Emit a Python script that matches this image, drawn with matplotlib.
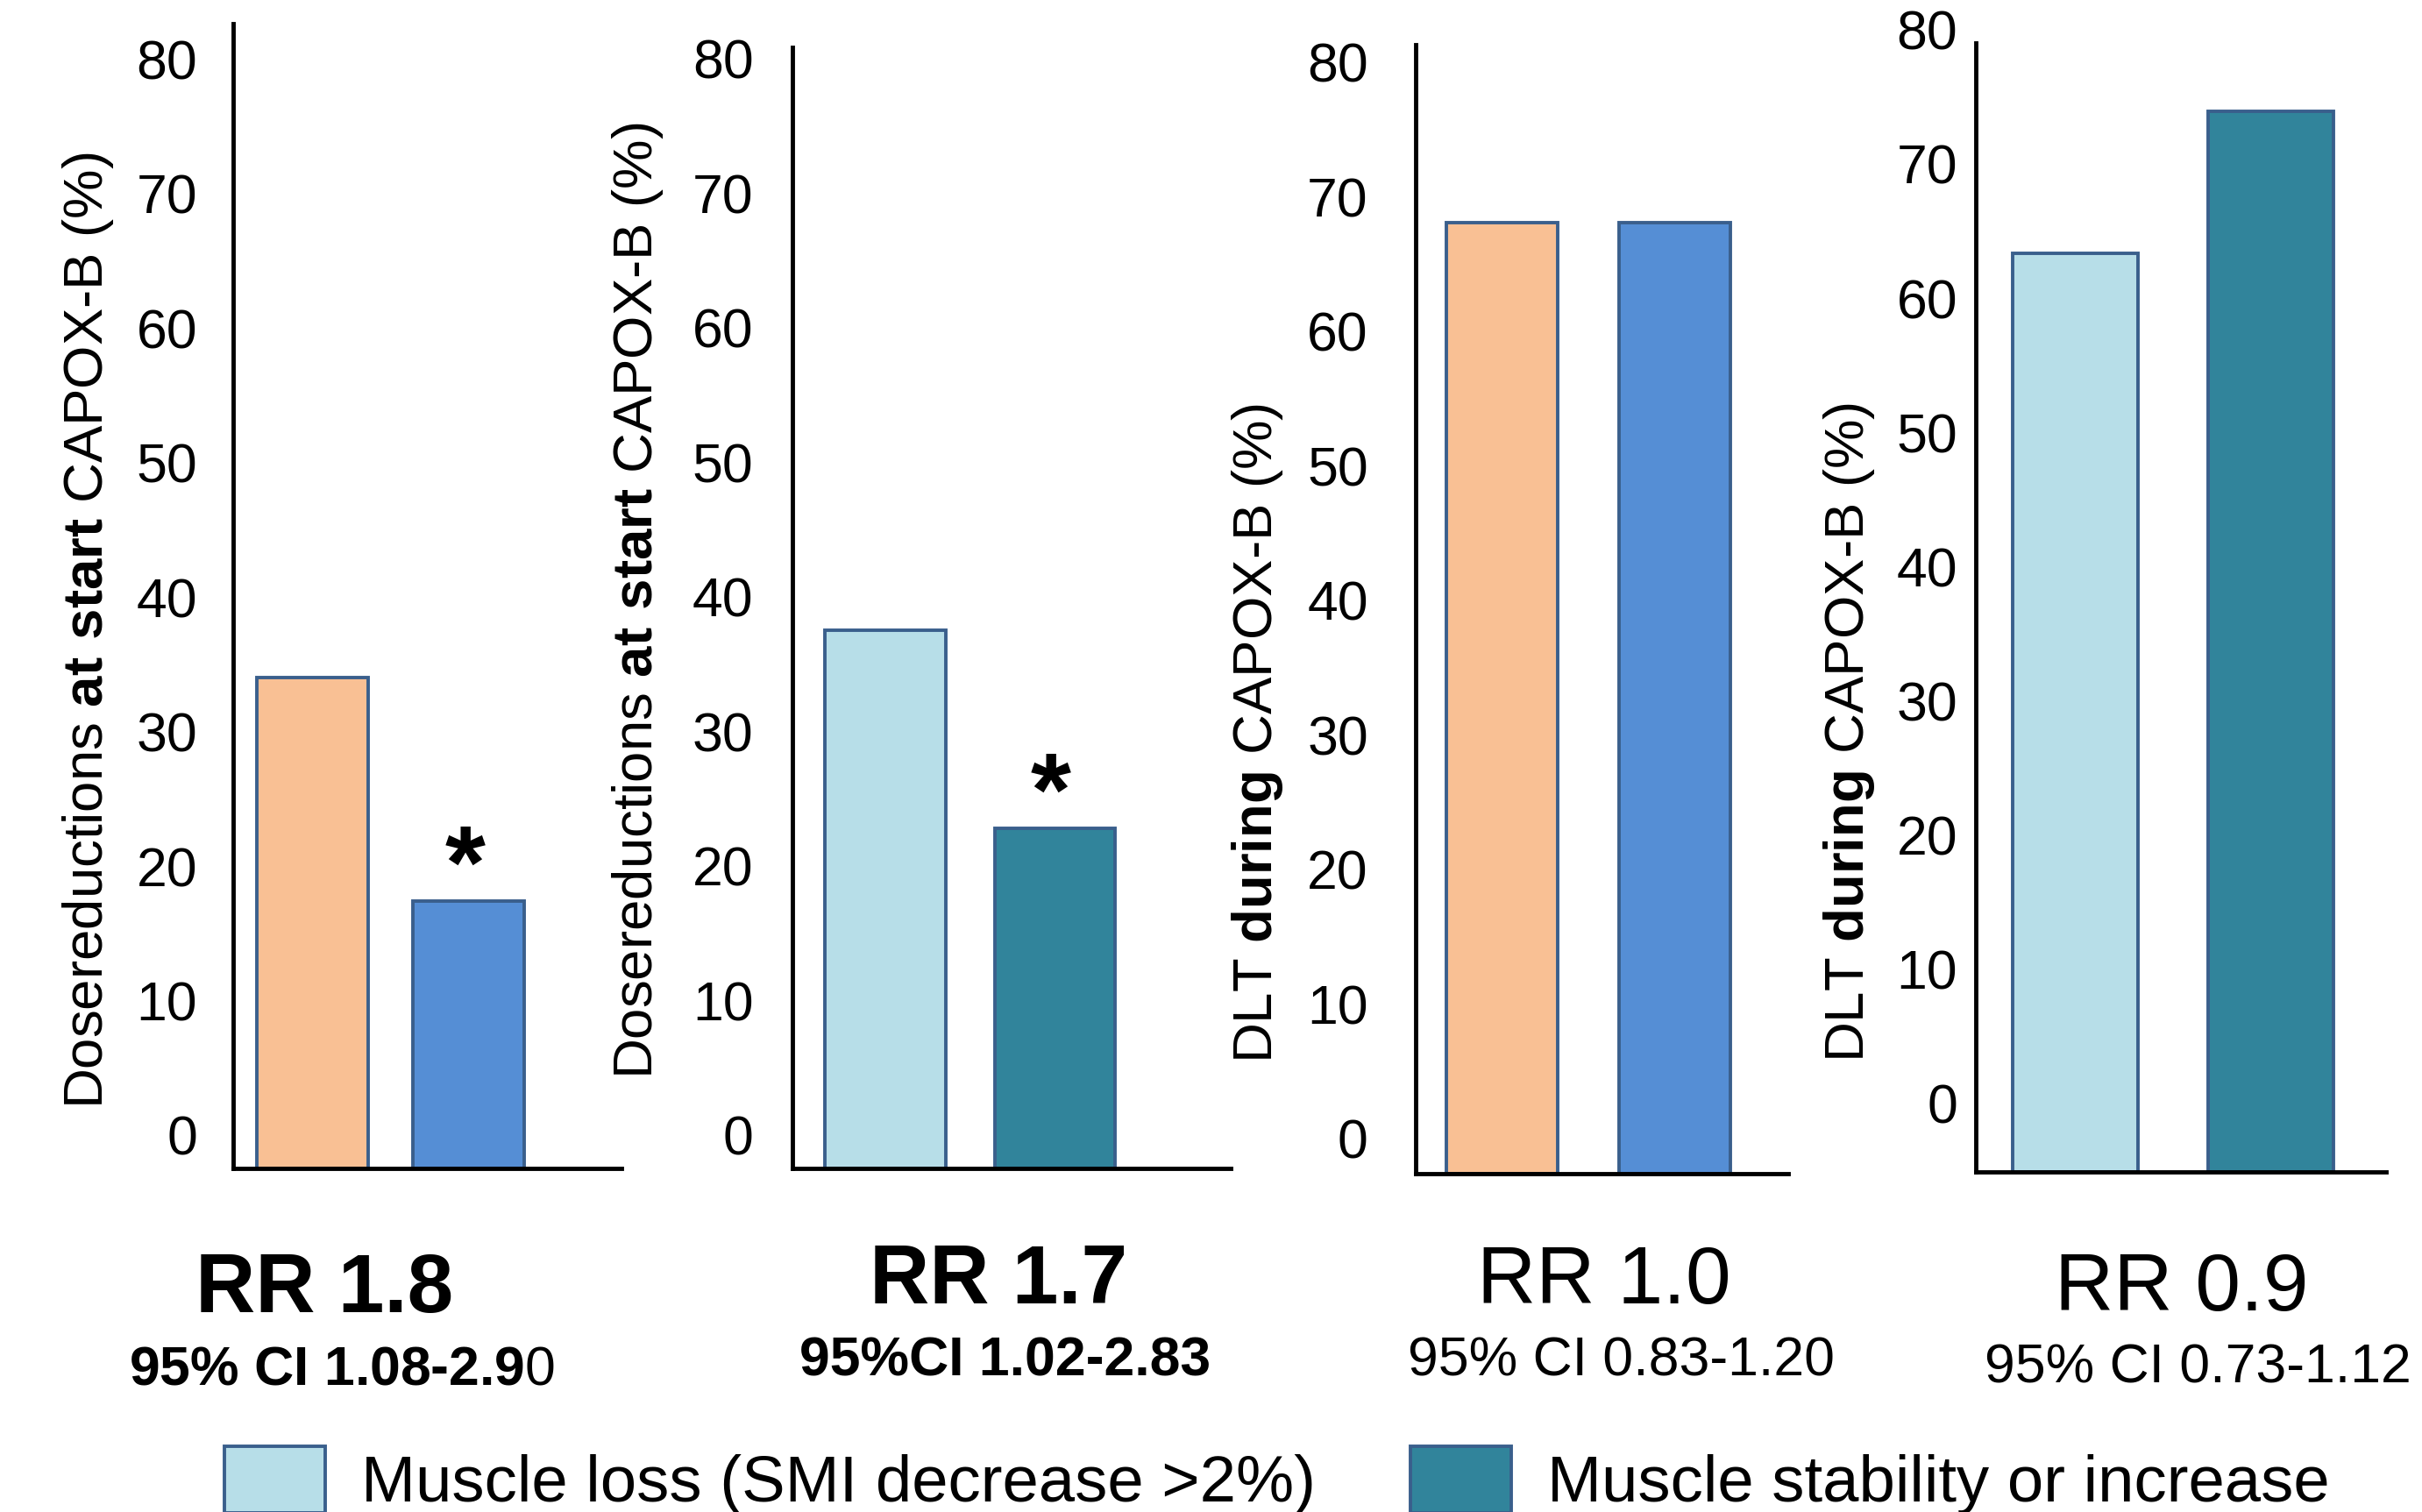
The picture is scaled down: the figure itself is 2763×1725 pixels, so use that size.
import matplotlib
matplotlib.use("Agg")
import matplotlib.pyplot as plt
from matplotlib.transforms import ScaledTranslation
from matplotlib.patches import Patch

plt.rcParams['font.family'] = ['Liberation Sans', 'DejaVu Sans']
plt.rcParams['mathtext.fontset'] = 'custom'
plt.rcParams['mathtext.rm'] = 'Liberation Sans'
plt.rcParams['mathtext.bf'] = 'Liberation Sans:bold'

W, H = 2763, 1725

# --- data (percent) ---
groups = ['Muscle loss', 'Muscle stability']
dosered_a = [36.5, 19.9]
dosered_b = [40.0, 25.3]
dlt_a = [70.7, 70.7]
dlt_b = [68.4, 79.0]
significant = [[False, True], [False, True], [False, False], [False, False]]

yticks = [0, 10, 20, 30, 40, 50, 60, 70, 80]
ylabels = [r'Dosereductions $\mathbf{at\ start}$ CAPOX-B (%)',
           r'Dosereductions $\mathbf{at\ start}$ CAPOX-B (%)',
           r'DLT $\mathbf{during}$ CAPOX-B (%)',
           r'DLT $\mathbf{during}$ CAPOX-B (%)']
rr_labels = ['RR 1.8', 'RR 1.7', 'RR 1.0', 'RR 0.9']
ci_labels = [r'95% CI 1.08-2.9$\mathrm{0}$', '95%CI 1.02-2.83',
             '95% CI 0.83-1.20', '95% CI 0.73-1.12']
rr_bold = [True, True, False, False]
legend_labels = ['Muscle loss (SMI decrease >2%)', 'Muscle stability or increase']

peach = '#F9C094'
blue = '#558ED5'
lightblue = '#B7DEE8'
teal = '#31849B'
edge = '#3A5F8C'
panel_colors = [[peach, blue], [lightblue, teal], [peach, blue], [lightblue, teal]]
panel_values = [dosered_a, dosered_b, dlt_a, dlt_b]

# layout in pixels: left, right, top, bottom
rects = [(266, 709, 27, 1333), (904, 1404, 54, 1333),
         (1615, 2040, 51, 1339), (2254, 2722, 49, 1337)]
ytops = [85.1, 83.3, 83.9, 84.1]
xlims = [(-0.508, 1.98), (-0.549, 2.04), (-0.5, 1.657), (-0.507, 1.59)]
widths = [0.71, 0.71, 0.64, 0.64]
pads = [29.5, 32, 39, 15]
lab_off = [38, 38, 40, 78]
ylab_pos = [(117, 719), (744, 685), (1451, 836), (2126, 835)]
rr_pos = [(370, 1497), (1139, 1487), (1830, 1487), (2489, 1495)]
ci_pos = [(390, 1580), (1147, 1570), (1849, 1570), (2507, 1578)]

fig = plt.figure(figsize=(W / 100, H / 100), dpi=100)

for i in range(4):
    l, r, t, b = rects[i]
    ax = fig.add_axes([l / W, 1 - b / H, (r - l) / W, (b - t) / H])
    ax.bar([0, 1], panel_values[i], width=widths[i], color=panel_colors[i],
           edgecolor=edge, linewidth=2.8, zorder=2)
    ax.set_ylim(0, ytops[i])
    ax.set_xlim(*xlims[i])
    ax.set_xticks([])
    ax.set_yticks(yticks)
    ax.set_yticklabels([str(v) for v in yticks])
    ax.tick_params(axis='y', length=0, pad=pads[i], labelsize=45)
    for s in ['top', 'right']:
        ax.spines[s].set_visible(False)
    for s in ['left', 'bottom']:
        ax.spines[s].set_linewidth(3.5)
        ax.spines[s].set_color('black')
        ax.spines[s].set_zorder(3)
    # tick labels sit a bit above their ticks in the original
    shift = ScaledTranslation(0, lab_off[i] / 100, fig.dpi_scale_trans)
    for lab in ax.get_yticklabels():
        lab.set_transform(lab.get_transform() + shift)

    for j, sig in enumerate(significant[i]):
        if sig:
            ax.annotate('*', xy=(j, panel_values[i][j]), xytext=(-3, 2),
                        textcoords='offset points', ha='center', va='baseline',
                        fontsize=85, fontweight='bold')

    x, y = ylab_pos[i]
    fig.text(x / W, 1 - y / H, ylabels[i], rotation=90, rotation_mode='anchor',
             ha='center', va='baseline', fontsize=45.7)

    w = 'bold' if rr_bold[i] else 'normal'
    x, y = rr_pos[i]
    fig.text(x / W, 1 - y / H, rr_labels[i], ha='center', va='baseline',
             fontsize=68 if rr_bold[i] else 67, fontweight=w)
    x, y = ci_pos[i]
    fig.text(x / W, 1 - y / H, ci_labels[i], ha='center', va='baseline',
             fontsize=45, fontweight=w)

# legend, one entry under each pair of panels
leg_x = [256, 1609]
leg_colors = [lightblue, teal]
for k in range(2):
    h = Patch(facecolor=leg_colors[k], edgecolor=edge, linewidth=2.8)
    fig.legend(handles=[h], labels=[legend_labels[k]], loc='center left',
               bbox_to_anchor=(leg_x[k] / W, 1 - 1689 / H), frameon=False,
               fontsize=53.6, borderpad=0, borderaxespad=0, handlelength=1.55,
               handleheight=1.2, handletextpad=0.55)

fig.savefig('out.png', dpi=100)
